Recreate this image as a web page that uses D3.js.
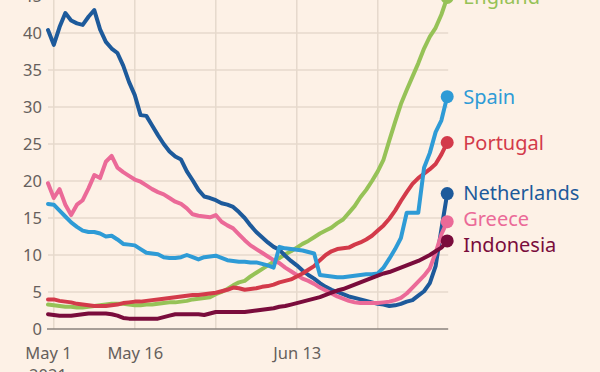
<!DOCTYPE html>
<html>
<head>
<meta charset="utf-8">
<script src="https://cdn.jsdelivr.net/npm/d3@7"></script>
<style>
  html, body { margin: 0; padding: 0; background: #fdf1e6; }
  svg { display: block; }
  text { font-family: "Noto Sans", "Open Sans", sans-serif; }
</style>
</head>
<body>
<svg id="chart" width="600" height="372"></svg>
<script>
// ---- Data (daily, May 1 – Jul 9, 2021) ----
const startDate = "2021-05-01";
const countries = ["England", "Netherlands", "Greece", "Portugal", "Spain", "Indonesia"];
const colors = ["#96c257", "#1d5a9b", "#eb6a98", "#d33a4a", "#2e9bd6", "#7a0c3c"];

const england = [3.3,3.2,3.1,3.0,3.0,2.9,2.9,3.0,3.1,3.2,3.3,3.4,3.4,3.4,3.3,3.2,3.2,3.3,3.3,3.4,
  3.5,3.6,3.6,3.7,3.8,4.0,4.1,4.2,4.3,4.7,5.0,5.4,5.9,6.3,6.5,7.1,7.6,8.1,8.6,9.1,
  9.6,10.1,10.5,11.0,11.5,11.9,12.4,12.9,13.3,13.7,14.3,14.8,15.7,16.6,17.8,18.8,20.0,21.3,22.9,25.5,
  28.0,30.4,32.3,34.1,35.9,37.9,39.5,40.7,42.5,44.8];
const netherlands = [40.4,38.4,40.8,42.7,41.7,41.3,41.1,42.2,43.1,40.5,38.8,37.9,37.3,35.6,33.4,31.6,28.9,28.8,27.5,26.2,
  25.0,24.0,23.3,22.9,21.3,20.1,18.8,17.9,17.7,17.4,17.0,16.8,16.5,15.8,15.0,14.0,13.1,12.4,11.7,11.1,
  10.7,9.9,9.2,8.6,7.9,7.3,6.8,6.2,5.7,5.3,5.0,4.7,4.4,4.2,4.0,3.8,3.6,3.4,3.3,3.1,
  3.2,3.4,3.7,3.9,4.5,5.1,6.2,8.5,13.5,18.3];
const greece = [19.7,17.7,18.9,16.8,15.4,16.8,17.4,19.0,20.8,20.4,22.6,23.4,21.8,21.2,20.7,20.2,19.9,19.4,18.9,18.5,
  18.2,17.7,17.2,16.9,16.3,15.5,15.3,15.2,15.1,15.4,14.5,14.0,13.6,12.8,12.0,11.3,10.8,10.3,9.8,9.3,
  8.9,8.3,7.8,7.3,6.8,6.5,6.1,5.6,5.2,4.8,4.4,4.1,3.8,3.6,3.5,3.5,3.5,3.5,3.6,3.7,
  3.9,4.2,4.8,5.6,6.4,7.2,8.2,10.3,12.8,14.5];
const portugal = [4.0,4.0,3.8,3.7,3.6,3.4,3.3,3.2,3.1,3.1,3.1,3.2,3.3,3.5,3.6,3.7,3.7,3.8,3.9,4.0,
  4.1,4.2,4.3,4.4,4.5,4.6,4.6,4.7,4.8,4.9,5.1,5.3,5.6,5.5,5.3,5.4,5.5,5.7,5.8,6.0,
  6.3,6.5,6.7,7.1,7.5,8.0,8.5,9.3,10.0,10.5,10.8,10.9,11.0,11.4,11.7,12.1,12.6,13.3,14.0,14.9,
  16.0,17.3,18.5,19.6,20.4,21.0,21.6,22.3,23.6,25.2];
const spain = [16.9,16.8,16.0,15.2,14.4,13.8,13.3,13.1,13.1,12.9,12.5,12.6,12.1,11.5,11.4,11.3,10.8,10.3,10.2,10.1,
  9.7,9.6,9.6,9.7,10.0,9.7,9.4,9.7,9.8,9.9,9.6,9.3,9.2,9.1,9.1,9.0,9.0,8.8,8.6,8.3,
  11.1,10.9,10.8,10.7,10.6,10.4,10.2,7.3,7.2,7.1,7.0,7.0,7.1,7.2,7.3,7.4,7.4,7.5,8.3,9.5,
  10.8,12.3,15.7,15.7,15.7,21.8,23.8,26.6,28.2,31.4];
const indonesia = [2.0,1.9,1.8,1.8,1.8,1.9,2.0,2.1,2.1,2.1,2.1,2.0,1.8,1.5,1.4,1.4,1.4,1.4,1.4,1.4,
  1.6,1.8,2.0,2.0,2.0,2.0,2.0,1.9,2.1,2.3,2.3,2.3,2.3,2.3,2.3,2.4,2.5,2.6,2.7,2.8,
  3.0,3.1,3.3,3.5,3.7,3.9,4.1,4.3,4.6,4.9,5.2,5.4,5.7,6.0,6.3,6.6,6.9,7.2,7.5,7.7,
  8.0,8.3,8.6,8.9,9.2,9.6,10.0,10.5,11.0,11.9];

const seriesValues = [england, netherlands, greece, portugal, spain, indonesia];
const yTicks = [0, 5, 10, 15, 20, 25, 30, 35, 40, 45];
const gridDates = ["2021-05-02", "2021-05-16", "2021-05-30", "2021-06-13", "2021-06-27"];
const xTickDates = ["2021-05-01", "2021-05-16", "2021-06-13"];
const xTickLabels = ["May 1", "May 16", "Jun 13"];
const yearLabel = "2021";

// ---- Build ----
(function () {
const parse = d3.utcParse("%Y-%m-%d");
const t0 = parse(startDate);
const dayMs = 86400000;
const series = countries.map((name, i) => ({
  name, color: colors[i],
  values: seriesValues[i].map((v, j) => ({ date: new Date(+t0 + j * dayMs), value: v }))
}));

const svg = d3.select("#chart");
const mLeft = 48, mRight = 447.2, mTop = -4, mBottom = 329;
const lastDate = series[0].values[series[0].values.length - 1].date;

const x = d3.scaleUtc().domain([t0, lastDate]).range([mLeft, mRight]);
const y = d3.scaleLinear().domain([0, 45]).range([mBottom, mTop]);

const gridColor = "#e6d9cc";
const textColor = "#66605c";

svg.append("g").selectAll("line").data(yTicks.filter(d => d > 0)).join("line")
  .attr("x1", mLeft).attr("x2", mRight + 1)
  .attr("y1", d => y(d)).attr("y2", d => y(d))
  .attr("stroke", gridColor).attr("stroke-width", 1.5);

svg.append("g").selectAll("line").data(gridDates.map(parse)).join("line")
  .attr("x1", d => x(d)).attr("x2", d => x(d))
  .attr("y1", 0).attr("y2", mBottom)
  .attr("stroke", gridColor).attr("stroke-width", 1.5);

const yAxis = d3.axisLeft(y).tickValues(yTicks).tickSize(0).tickPadding(6);
const yg = svg.append("g").attr("transform", `translate(${mLeft},0)`).call(yAxis);
yg.select(".domain").remove();
yg.selectAll("text").attr("fill", textColor).attr("font-size", 16.5)
  .attr("font-family", '"Noto Sans", sans-serif');

svg.append("line").attr("x1", mLeft - 1).attr("x2", mRight + 1)
  .attr("y1", mBottom).attr("y2", mBottom)
  .attr("stroke", "#8a827c").attr("stroke-width", 1.5);

const xAxis = d3.axisBottom(x).tickValues(xTickDates.map(parse))
  .tickFormat((d, i) => xTickLabels[i]).tickSize(0).tickPadding(18);
const xg = svg.append("g").attr("transform", `translate(0,${mBottom})`).call(xAxis);
xg.select(".domain").remove();
xg.selectAll("text").attr("fill", textColor).attr("font-size", 16.5)
  .attr("font-family", '"Noto Sans", sans-serif');
svg.append("text").attr("x", x(parse(xTickDates[0]))).attr("y", 381)
  .attr("text-anchor", "middle").attr("fill", textColor).attr("font-size", 16.5)
  .text(yearLabel);

const line = d3.line().x(d => x(d.date)).y(d => y(d.value)).curve(d3.curveLinear);
svg.append("g").selectAll("path").data(series).join("path")
  .attr("d", d => line(d.values))
  .attr("fill", "none")
  .attr("stroke", d => d.color)
  .attr("stroke-width", 4)
  .attr("stroke-linejoin", "round")
  .attr("stroke-linecap", "round");

svg.append("g").selectAll("circle").data(series).join("circle")
  .attr("cx", d => x(d.values[d.values.length - 1].date))
  .attr("cy", d => y(d.values[d.values.length - 1].value))
  .attr("r", 6.5)
  .attr("fill", d => d.color);

const labels = series.map(s => ({ s, ly: y(s.values[s.values.length - 1].value) }))
  .sort((a, b) => a.ly - b.ly);
const gap = 26;
for (let iter = 0; iter < 50; iter++) {
  for (let i = 1; i < labels.length; i++) {
    const d = labels[i].ly - labels[i - 1].ly;
    if (d < gap) {
      const push = (gap - d) / 2;
      labels[i].ly += push;
      labels[i - 1].ly -= push;
    }
  }
}
svg.append("g").selectAll("text").data(labels).join("text")
  .attr("x", mRight + 16)
  .attr("y", d => d.ly)
  .attr("dy", "0.35em")
  .attr("fill", d => d.s.color)
  .attr("font-size", 20)
  .text(d => d.s.name);
})();
</script>
</body>
</html>
